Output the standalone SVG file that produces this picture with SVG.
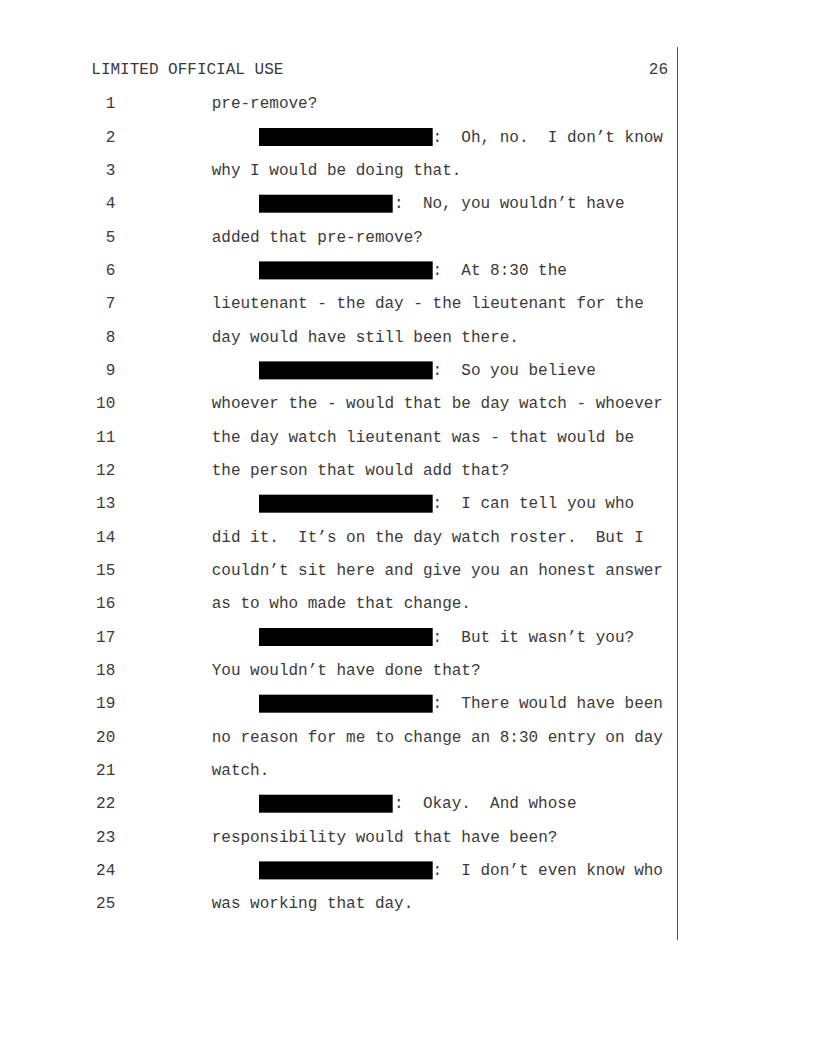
<svg xmlns="http://www.w3.org/2000/svg" width="816" height="1056" viewBox="0 0 816 1056">
<style>
text{font-family:"Liberation Mono","Courier New",monospace;font-size:16px;fill:#3a3a3a;white-space:pre}
.n{text-anchor:end}
.r{fill:#000}
</style>
<rect width="816" height="1056" fill="#fff"/>
<line x1="677.5" y1="47" x2="677.5" y2="940" stroke="#555" stroke-width="1"/>
<g id="header">
<text x="91.3" y="74">LIMITED OFFICIAL USE</text>
<text class="n" x="668" y="74">26</text>
</g>
<g id="linenumbers">
<text class="n" x="115.3" y="108.3">1</text>
<text class="n" x="115.3" y="141.6">2</text>
<text class="n" x="115.3" y="175">3</text>
<text class="n" x="115.3" y="208.3">4</text>
<text class="n" x="115.3" y="241.6">5</text>
<text class="n" x="115.3" y="275">6</text>
<text class="n" x="115.3" y="308.3">7</text>
<text class="n" x="115.3" y="341.6">8</text>
<text class="n" x="115.3" y="375">9</text>
<text class="n" x="115.3" y="408.3">10</text>
<text class="n" x="115.3" y="441.6">11</text>
<text class="n" x="115.3" y="475">12</text>
<text class="n" x="115.3" y="508.3">13</text>
<text class="n" x="115.3" y="541.6">14</text>
<text class="n" x="115.3" y="575">15</text>
<text class="n" x="115.3" y="608.3">16</text>
<text class="n" x="115.3" y="641.6">17</text>
<text class="n" x="115.3" y="675">18</text>
<text class="n" x="115.3" y="708.3">19</text>
<text class="n" x="115.3" y="741.6">20</text>
<text class="n" x="115.3" y="775">21</text>
<text class="n" x="115.3" y="808.3">22</text>
<text class="n" x="115.3" y="841.6">23</text>
<text class="n" x="115.3" y="875">24</text>
<text class="n" x="115.3" y="908.3">25</text>
</g>
<g id="redactions">
<rect class="r" x="259" y="128" width="173.7" height="18"/>
<rect class="r" x="259" y="194.7" width="133.7" height="18"/>
<rect class="r" x="259" y="261.4" width="173.7" height="18"/>
<rect class="r" x="259" y="361.4" width="173.7" height="18"/>
<rect class="r" x="259" y="494.7" width="173.7" height="18"/>
<rect class="r" x="259" y="628" width="173.7" height="18"/>
<rect class="r" x="259" y="694.7" width="173.7" height="18"/>
<rect class="r" x="259" y="794.7" width="133.7" height="18"/>
<rect class="r" x="259" y="861.4" width="173.7" height="18"/>
</g>
<g id="body" xml:space="preserve">
<text x="211.7" y="108.3">pre-remove?</text>
<text x="432.5" y="141.6">:  Oh, no.  I don’t know</text>
<text x="211.7" y="175">why I would be doing that.</text>
<text x="394.1" y="208.3">:  No, you wouldn’t have</text>
<text x="211.7" y="241.6">added that pre-remove?</text>
<text x="432.5" y="275">:  At 8:30 the</text>
<text x="211.7" y="308.3">lieutenant - the day - the lieutenant for the</text>
<text x="211.7" y="341.6">day would have still been there.</text>
<text x="432.5" y="375">:  So you believe</text>
<text x="211.7" y="408.3">whoever the - would that be day watch - whoever</text>
<text x="211.7" y="441.6">the day watch lieutenant was - that would be</text>
<text x="211.7" y="475">the person that would add that?</text>
<text x="432.5" y="508.3">:  I can tell you who</text>
<text x="211.7" y="541.6">did it.  It’s on the day watch roster.  But I</text>
<text x="211.7" y="575">couldn’t sit here and give you an honest answer</text>
<text x="211.7" y="608.3">as to who made that change.</text>
<text x="432.5" y="641.6">:  But it wasn’t you?</text>
<text x="211.7" y="675">You wouldn’t have done that?</text>
<text x="432.5" y="708.3">:  There would have been</text>
<text x="211.7" y="741.6">no reason for me to change an 8:30 entry on day</text>
<text x="211.7" y="775">watch.</text>
<text x="394.1" y="808.3">:  Okay.  And whose</text>
<text x="211.7" y="841.6">responsibility would that have been?</text>
<text x="432.5" y="875">:  I don’t even know who</text>
<text x="211.7" y="908.3">was working that day.</text>
</g>
</svg>
